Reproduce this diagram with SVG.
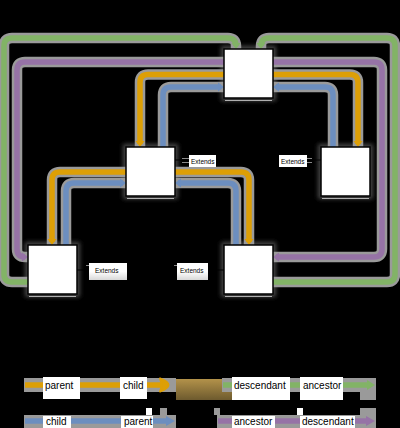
<svg xmlns="http://www.w3.org/2000/svg" width="400" height="428" viewBox="0 0 400 428">
<style>
.bg{fill:#000}
.node{fill:#fff;stroke:#000;stroke-width:1.5}
.glow{fill:#474747;filter:url(#blur)}
.under{stroke:#b0b0b0;stroke-width:1.2}
.halo{fill:none;stroke:#9a9a9a;stroke-width:10.5}
.core{fill:none;stroke-width:5.5}
.or{stroke:#dd9f06}
.bl{stroke:#6c8ebf}
.gr{stroke:#82b366}
.pu{stroke:#9673a6}
.ext{stroke:#000;stroke-width:1;fill:none}
.tick{stroke:#8a8a8a;stroke-width:1}
.lbl{fill:#fff}
.gbox{fill:#9a9a9a}
.t{font-family:"Liberation Sans",Arial,sans-serif;font-size:10px;fill:#000}
.ts{font-family:"Liberation Sans",Arial,sans-serif;font-size:6.5px;fill:#000}
</style>
<defs>
<filter id="blur" x="-30%" y="-30%" width="160%" height="160%"><feGaussianBlur stdDeviation="2"/></filter>
<marker id="aOr" viewBox="0 -5 6 10" markerWidth="6" markerHeight="10" refX="3" refY="0" orient="auto" markerUnits="userSpaceOnUse"><path d="M0,-4.5L6,0L0,4.5z" fill="#dd9f06"/></marker>
<marker id="aBl" viewBox="0 -5 6 10" markerWidth="6" markerHeight="10" refX="3" refY="0" orient="auto" markerUnits="userSpaceOnUse"><path d="M0,-4.5L6,0L0,4.5z" fill="#6c8ebf"/></marker>
<marker id="aGr" viewBox="0 -5 6 10" markerWidth="6" markerHeight="10" refX="3" refY="0" orient="auto" markerUnits="userSpaceOnUse"><path d="M0,-4.5L6,0L0,4.5z" fill="#82b366"/></marker>
<marker id="aPu" viewBox="0 -5 6 10" markerWidth="6" markerHeight="10" refX="3" refY="0" orient="auto" markerUnits="userSpaceOnUse"><path d="M0,-4.5L6,0L0,4.5z" fill="#9673a6"/></marker>
<linearGradient id="brown" x1="0" y1="0" x2="0" y2="1"><stop offset="0" stop-color="#b3924a"/><stop offset="1" stop-color="#6d5a2e"/></linearGradient>
<linearGradient id="lblg" x1="0" y1="0" x2="0" y2="1"><stop offset="0.5" stop-color="#fff"/><stop offset="1" stop-color="#d8d8d8"/></linearGradient>
</defs>
<rect class="bg" x="0" y="0" width="400" height="428"/>

<g id="node-glows">
<rect class="glow" x="221" y="46" width="55" height="55"/>
<rect class="glow" x="123" y="144" width="55" height="55"/>
<rect class="glow" x="318" y="144" width="55" height="55"/>
<rect class="glow" x="25" y="242" width="55" height="55"/>
<rect class="glow" x="221" y="242" width="55" height="55"/>
</g>

<g id="connectors">
<g id="halos">
<path class="halo" d="M28,282L12,282Q4,282 4,274L4,46Q4,38 12,38L228,38Q236,38 236,46L236,49"/>
<path class="halo" d="M273,282L387,282Q395,282 395,274L395,46Q395,38 387,38L269,38Q261,38 261,46L261,49"/>
<path class="halo" d="M224,62L25,62Q17,62 17,70L17,249Q17,257 25,257L28,257"/>
<path class="halo" d="M273,62L374,62Q382,62 382,70L382,249Q382,257 374,257L273,257"/>
<path class="halo" d="M224,74.5L148,74.5Q140,74.5 140,82.5L140,147"/>
<path class="halo" d="M163,147L163,95Q163,87 171,87L224,87"/>
<path class="halo" d="M273,74.5L350,74.5Q358,74.5 358,82.5L358,147"/>
<path class="halo" d="M333,147L333,95Q333,87 325,87L273,87"/>
<path class="halo" d="M126,172L60,172Q52,172 52,180L52,245"/>
<path class="halo" d="M66,245L66,191Q66,183 74,183L126,183"/>
<path class="halo" d="M175,172L241,172Q249,172 249,180L249,245"/>
<path class="halo" d="M236,245L236,191Q236,183 228,183L175,183"/>
</g>
<g id="edge-ancestor-left"><path class="core gr" marker-end="url(#aGr)" d="M28,282L12,282Q4,282 4,274L4,46Q4,38 12,38L228,38Q236,38 236,46"/></g>
<g id="edge-ancestor-right"><path class="core gr" marker-end="url(#aGr)" d="M273,282L387,282Q395,282 395,274L395,46Q395,38 387,38L269,38Q261,38 261,46"/></g>
<g id="edge-descendant-left"><path class="core pu" marker-end="url(#aPu)" d="M224,62L25,62Q17,62 17,70L17,249Q17,257 25,257"/></g>
<g id="edge-descendant-right"><path class="core pu" marker-end="url(#aPu)" d="M273,62L374,62Q382,62 382,70L382,249Q382,257 374,257L276,257"/></g>
<g id="edge-child-a"><path class="core or" marker-end="url(#aOr)" d="M224,74.5L148,74.5Q140,74.5 140,82.5L140,144"/></g>
<g id="edge-parent-a"><path class="core bl" marker-end="url(#aBl)" d="M163,147L163,95Q163,87 171,87L221,87"/></g>
<g id="edge-child-b"><path class="core or" marker-end="url(#aOr)" d="M273,74.5L350,74.5Q358,74.5 358,82.5L358,144"/></g>
<g id="edge-parent-b"><path class="core bl" marker-end="url(#aBl)" d="M333,147L333,95Q333,87 325,87L276,87"/></g>
<g id="edge-child-c"><path class="core or" marker-end="url(#aOr)" d="M126,172L60,172Q52,172 52,180L52,242"/></g>
<g id="edge-parent-c"><path class="core bl" marker-end="url(#aBl)" d="M66,245L66,191Q66,183 74,183L123,183"/></g>
<g id="edge-child-d"><path class="core or" marker-end="url(#aOr)" d="M175,172L241,172Q249,172 249,180L249,242"/></g>
<g id="edge-parent-d"><path class="core bl" marker-end="url(#aBl)" d="M236,245L236,191Q236,183 228,183L178,183"/></g>

<g id="edge-extends-top">
<path class="ext" d="M175,160L321,160"/>
<path class="tick" d="M182,158.5L189,158.5M182,162.5L189,162.5M306,158.5L312,158.5M306,162.5L312,162.5"/>
<rect class="lbl" x="189" y="155" width="27" height="12"/>
<text class="ts" x="191" y="163.5">Extends</text>
<rect class="lbl" x="279" y="155" width="28" height="12"/>
<text class="ts" x="281" y="163.5">Extends</text>
</g>
<g id="edge-extends-bottom">
<path class="ext" d="M77,270L224,270"/>
<path class="tick" d="M86,265.5L93,265.5M174,265.5L180,265.5"/>
<rect x="89" y="263" width="38" height="17" fill="url(#lblg)"/>
<text class="ts" x="95" y="272.5">Extends</text>
<rect x="177" y="263" width="31" height="17" fill="url(#lblg)"/>
<text class="ts" x="180" y="272.5">Extends</text>
</g>
</g>

<g id="node-top">
<rect class="node" x="224" y="49" width="49" height="49"/>
<line class="under" x1="225" y1="100.5" x2="272" y2="100.5"/>
</g>
<g id="node-mid-left">
<rect class="node" x="126" y="147" width="49" height="49"/>
<line class="under" x1="127" y1="198.5" x2="174" y2="198.5"/>
</g>
<g id="node-right">
<rect class="node" x="321" y="147" width="49" height="49"/>
<line class="under" x1="322" y1="198.5" x2="369" y2="198.5"/>
</g>
<g id="node-bottom-left">
<rect class="node" x="28" y="245" width="49" height="49"/>
<line class="under" x1="29" y1="296.5" x2="76" y2="296.5"/>
</g>
<g id="node-bottom-right">
<rect class="node" x="224" y="245" width="49" height="49"/>
<line class="under" x1="225" y1="296.5" x2="272" y2="296.5"/>
</g>

<g id="legend">
<rect x="176" y="379" width="56" height="21" fill="url(#brown)"/>
<rect class="gbox" x="24" y="378" width="152" height="14"/>
<rect class="gbox" x="222" y="378" width="154" height="14"/>
<rect class="gbox" x="360" y="392" width="16" height="8"/>
<rect class="gbox" x="24" y="415" width="152" height="13"/>
<rect class="gbox" x="217" y="415" width="159" height="13"/>
<rect class="gbox" x="160" y="408" width="7" height="7"/>
<rect class="gbox" x="214" y="408" width="6" height="7"/>
<rect class="gbox" x="360" y="408" width="16" height="7"/>
<g id="legend-parent-child">
<path class="core or" d="M25,385L164,385"/>
<path d="M160,378.5Q177,385 160,391.5Q163,385 160,378.5z" fill="#dd9f06" stroke="#dd9f06" stroke-width="2" stroke-linejoin="round"/>
<rect class="lbl" x="43" y="377" width="37" height="22"/>
<text class="t" x="45" y="389">parent</text>
<rect class="lbl" x="120" y="377" width="27" height="22"/>
<text class="t" x="123" y="389">child</text>
</g>
<g id="legend-descendant-ancestor">
<path class="core gr" d="M223,385L368,385"/>
<path d="M367,380L375,385L367,390z" fill="#82b366"/>
<rect class="lbl" x="232" y="377" width="58" height="23"/>
<text class="t" x="234" y="389">descendant</text>
<rect class="lbl" x="300" y="377" width="43" height="23"/>
<text class="t" x="303" y="389">ancestor</text>
</g>
<g id="legend-child-parent">
<path class="core bl" d="M25,421L168,421"/>
<path d="M166,416L175,421L166,426z" fill="#6c8ebf"/>
<rect class="lbl" x="146" y="408" width="6" height="7"/>
<rect class="lbl" x="43" y="416" width="28" height="12"/>
<text class="t" x="46" y="425">child</text>
<rect class="lbl" x="121" y="416" width="32" height="12"/>
<text class="t" x="124" y="425">parent</text>
</g>
<g id="legend-ancestor-descendant">
<path class="core pu" d="M218,421L368,421"/>
<path d="M366,416L375,421L366,426z" fill="#9673a6"/>
<rect class="lbl" x="297" y="408" width="6" height="7"/>
<rect class="lbl" x="232" y="416" width="43" height="12"/>
<text class="t" x="234" y="425">ancestor</text>
<rect class="lbl" x="300" y="416" width="55" height="12"/>
<text class="t" x="302" y="425">descendant</text>
</g>
</g>
</svg>
